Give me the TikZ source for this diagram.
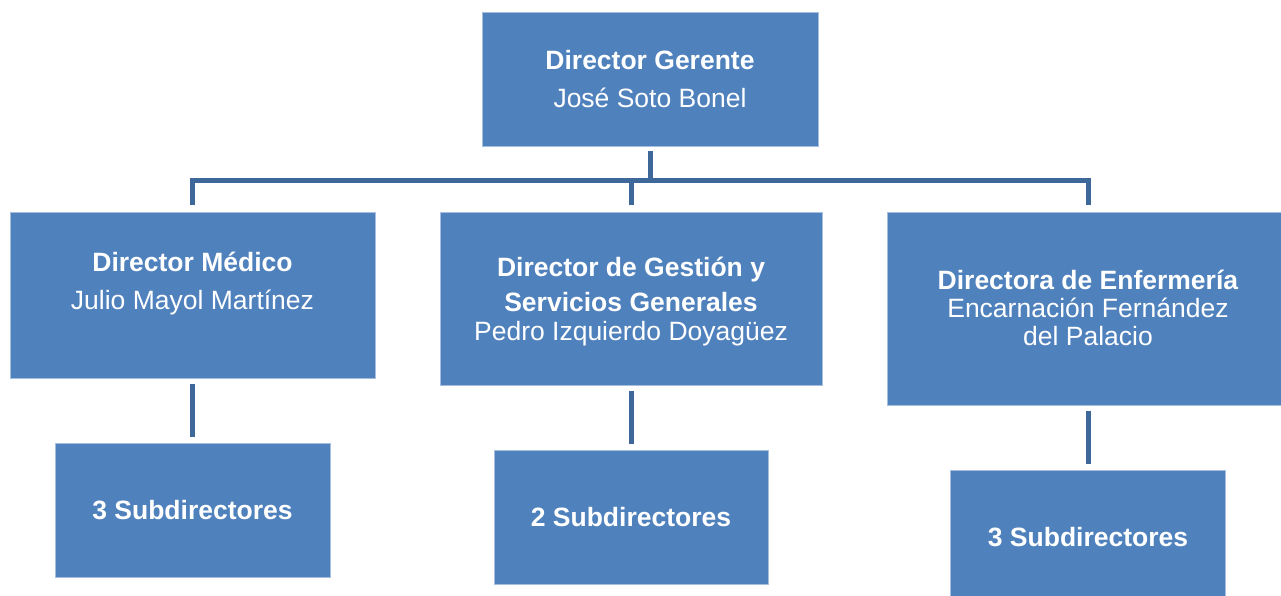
\documentclass[tikz,border=0pt]{standalone}
\usepackage{fontspec}
\setmainfont{Liberation Sans}
\usepackage{tikz}
\usetikzlibrary{positioning}

\definecolor{boxblue}{HTML}{4F81BD}
\definecolor{boxedge}{HTML}{A7BFDE}
\definecolor{linkblue}{HTML}{3E679A}

\tikzset{
  box/.style={fill=boxblue, draw=boxedge, line width=0.8pt, inner sep=0pt,
    text=white, align=center, font=\fontsize{26.5}{38}\selectfont},
  txt/.style={text=white, align=center, inner sep=0pt},
  link/.style={draw=linkblue, line width=5pt}
}

\begin{document}
\begin{tikzpicture}[x=1pt,y=-1pt]

\useasboundingbox (0,0) rectangle (1281,595);

\node[box, minimum width=336pt, minimum height=134pt] (gerente) at (650,79)
  {\textbf{Director Gerente}\\José Soto Bonel};

\node[box, minimum width=365pt, minimum height=166pt] (medico) at (192.5,295) {};
\node[box, minimum width=382pt, minimum height=173pt] (gestion) at (631,298.5) {};
\node[box, minimum width=402pt, minimum height=193pt] (enfermeria) at (1088,308.5) {};

\node[txt, font=\fontsize{26.5}{38}\selectfont] (medicotxt) at (192.5,284)
  {\textbf{Director Médico}\\Julio Mayol Martínez};
\node[txt, font=\fontsize{26.5}{35}\selectfont] (gestiontxt) at (631,302)
  {\textbf{Director de Gestión y}\\\textbf{Servicios Generales}\\[-6pt]Pedro Izquierdo Doyagüez};
\node[txt, font=\fontsize{26.5}{28}\selectfont] (enfermeriatxt) at (1088,308)
  {\textbf{Directora de Enfermería}\\Encarnación Fernández\\del Palacio};

\node[box, minimum width=275pt, minimum height=134pt] (sub1) at (192.5,510) {\textbf{3 Subdirectores}};
\node[box, minimum width=274pt, minimum height=134pt] (sub2) at (631,517) {\textbf{2 Subdirectores}};
\node[box, minimum width=275pt, minimum height=134pt] (sub3) at (1088,537) {\textbf{3 Subdirectores}};

\coordinate (bar) at (650,180);

\draw[link] ([yshift=-5pt]gerente.south) -- (bar);
\draw[link] ([yshift=7pt]medico.north) |- (bar) -| ([yshift=7pt]enfermeria.north);
\draw[link] ([yshift=7pt]gestion.north) -- (gestion.north |- bar);

\foreach \i/\j in {medico/sub1,gestion/sub2,enfermeria/sub3}
    \draw[link, shorten <=6pt, shorten >=6pt] (\i.south) -- (\j.north);

\end{tikzpicture}
\end{document}
